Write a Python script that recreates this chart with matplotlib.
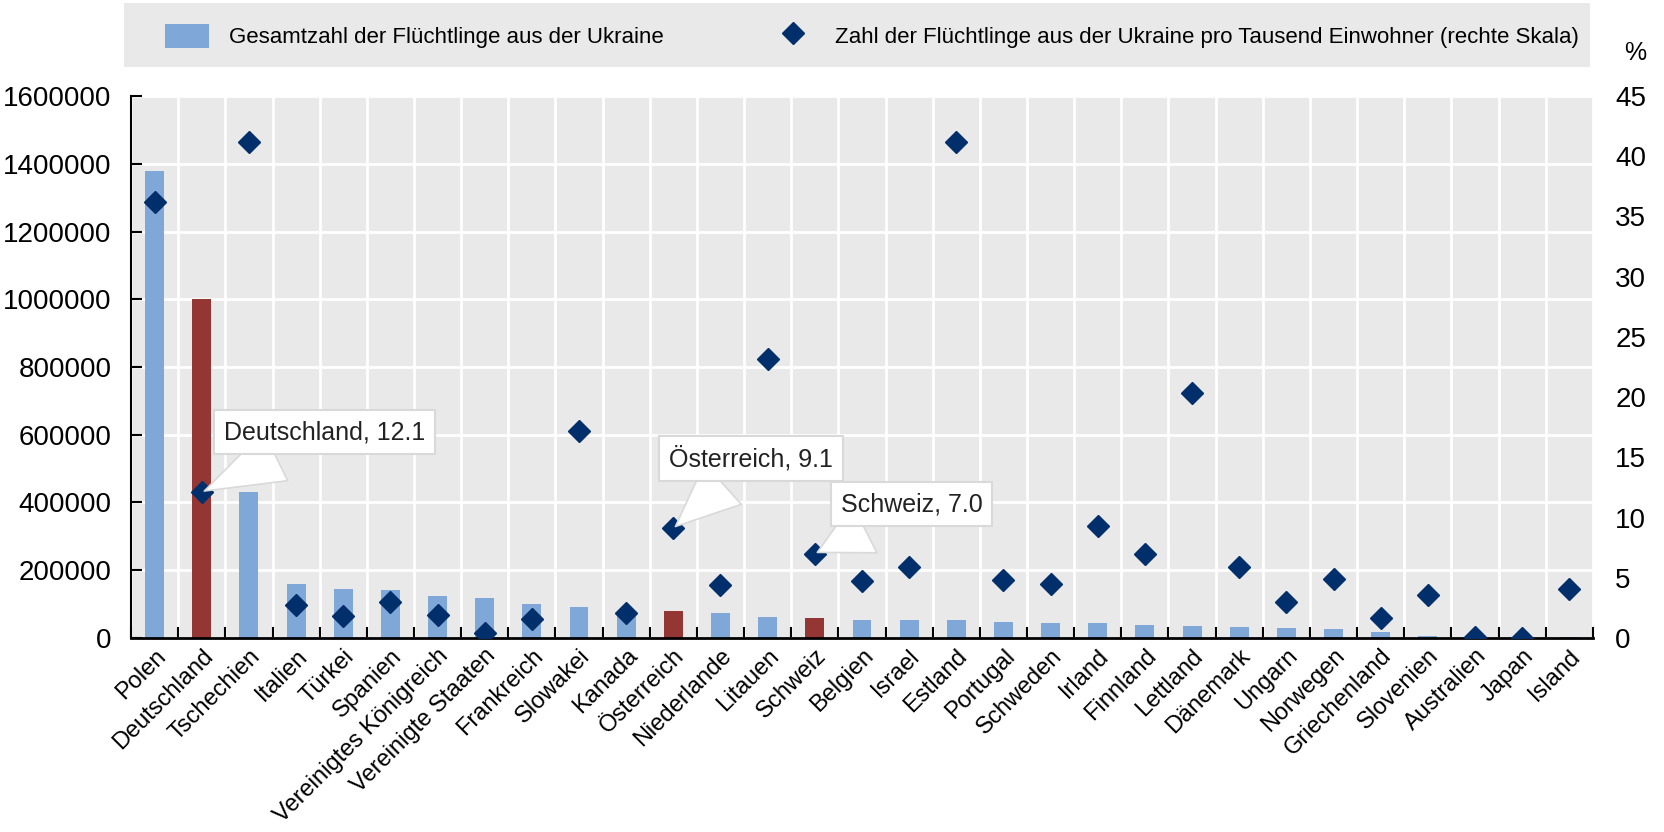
import numpy as np
import matplotlib
matplotlib.use("Agg")
import matplotlib.pyplot as plt
from matplotlib.patches import Rectangle, Patch
from matplotlib.lines import Line2D

plt.rcParams['font.family'] = ['Liberation Sans', 'DejaVu Sans']

# --- Data ---
countries = ["Polen", "Deutschland", "Tschechien", "Italien", "Türkei", "Spanien",
             "Vereinigtes Königreich", "Vereinigte Staaten", "Frankreich", "Slowakei",
             "Kanada", "Österreich", "Niederlande", "Litauen", "Schweiz", "Belgien",
             "Israel", "Estland", "Portugal", "Schweden", "Irland", "Finnland",
             "Lettland", "Dänemark", "Ungarn", "Norwegen", "Griechenland",
             "Slovenien", "Australien", "Japan", "Island"]
total_refugees = [1380000, 1002000, 432000, 160000, 145000, 141000,
                  125000, 118000, 100000, 92000,
                  76000, 80000, 75000, 63000, 59000, 53000,
                  53000, 53000, 48000, 45000, 44000, 37000,
                  35000, 32000, 28000, 26000, 18000,
                  6000, 1500, 1500, 1500]
per_thousand = [36.2, 12.1, 41.2, 2.7, 1.8, 3.0,
                1.9, 0.4, 1.6, 17.2,
                2.1, 9.1, 4.4, 23.2, 7.0, 4.7,
                5.9, 41.2, 4.8, 4.5, 9.3, 7.0,
                20.3, 5.9, 3.0, 4.9, 1.7,
                3.6, 0.1, 0.0, 4.1]
highlight = ["Deutschland", "Österreich", "Schweiz"]
callouts = {"Deutschland": (3.6, 17.1), "Österreich": (12.65, 14.9), "Schweiz": (16.05, 11.1)}

light_blue = "#7fa8d9"
dark_red = "#943634"
navy = "#002f6c"
bg = "#e9e9e9"

fig = plt.figure(figsize=(16.65, 8.32), dpi=100)
ax = fig.add_axes([0.0787, 0.2332, 0.878, 0.6514])
ax2 = ax.twinx()

x = np.arange(len(countries))
colors = [dark_red if c in highlight else light_blue for c in countries]

ax.set_facecolor(bg)
ax.bar(x, total_refugees, width=0.4, color=colors, zorder=2)
ax.set_xlim(-0.5, len(countries) - 0.5)
ax.set_ylim(0, 1600000)
ax.set_yticks(np.arange(0, 1600001, 200000))
ax.set_yticklabels([str(v) for v in range(0, 1600001, 200000)], fontsize=20)
ax.set_xticks(x)
ax.set_xticklabels(countries, rotation=45, ha='right', rotation_mode='anchor', fontsize=17)
ax.set_xticks(np.arange(-0.5, len(countries), 1), minor=True)
ax.tick_params(axis='x', which='major', length=0, pad=5)
ax.tick_params(axis='x', which='minor', direction='in', length=8, width=1.5)
ax.tick_params(axis='y', direction='in', length=8, width=1.5, pad=14)
ax.grid(axis='y', color='white', linewidth=2)
ax.grid(axis='x', which='minor', color='white', linewidth=2)
ax.set_axisbelow(True)
for s in ['top', 'right']:
    ax.spines[s].set_visible(False)
ax.spines['left'].set_linewidth(1.5)
ax.spines['bottom'].set_linewidth(2)

# right scale
ax2.plot(x, per_thousand, linestyle='none', marker='D', markersize=11, color=navy, zorder=4)
ax2.set_ylim(0, 45)
ax2.set_yticks(np.arange(0, 46, 5))
ax2.tick_params(axis='y', length=0, pad=16, labelsize=20)
for s in ax2.spines.values():
    s.set_visible(False)
ax2.text(1.029, 1.079, "%", transform=ax2.transAxes, fontsize=18, ha='center', va='center')

for name, (tx, ty) in callouts.items():
    i = countries.index(name)
    ax2.annotate(f"{name}, {per_thousand[i]:.1f}", xy=(i, per_thousand[i]), xytext=(tx, ty),
                 fontsize=18, ha='center', va='center', color='#222222', zorder=5,
                 bbox=dict(boxstyle='square,pad=0.4', fc='white', ec='#d9d9d9', lw=1.5),
                 arrowprops=dict(arrowstyle='wedge,tail_width=2.2,shrink_factor=0.5',
                                 fc='white', ec='#d9d9d9', lw=1.2))

# legend band
fig.patches.append(Rectangle((124 / 1665, 1 - 67 / 832), 1466 / 1665, 64 / 832,
                             transform=fig.transFigure, facecolor=bg, edgecolor='none'))
handles = [Patch(facecolor=light_blue, edgecolor='none'),
           Line2D([], [], linestyle='none', marker='D', markersize=11, color=navy)]
labels = ["Gesamtzahl der Flüchtlinge aus der Ukraine",
          "Zahl der Flüchtlinge aus der Ukraine pro Tausend Einwohner (rechte Skala)"]
fig.legend(handles, labels, loc='center', bbox_to_anchor=(872 / 1665, 1 - 36 / 832),
           ncol=2, frameon=False, fontsize=16, handlelength=2.0, handleheight=1.3,
           columnspacing=4.8, handletextpad=0.9)

fig.savefig("out.png", dpi=100)
